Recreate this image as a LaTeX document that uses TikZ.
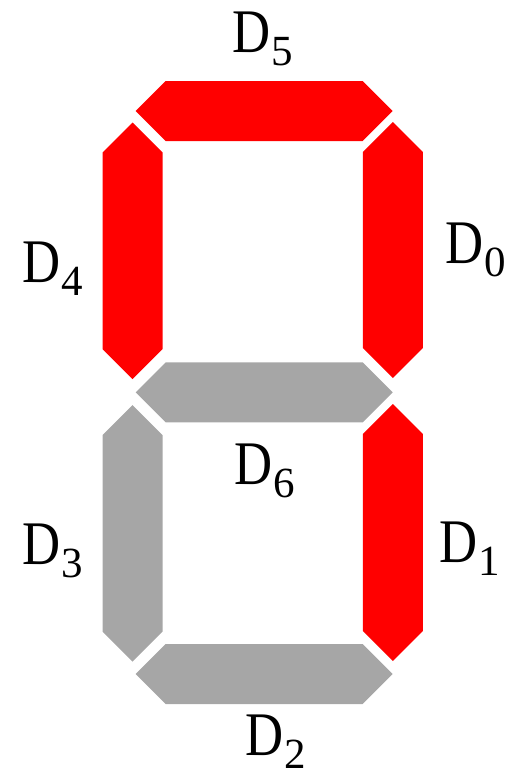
\documentclass[tikz,border=0pt]{standalone}
\usepackage{fontspec}
\newfontfamily\labfont[FakeStretch=0.85]{Liberation Serif}
\newfontfamily\subfont{Liberation Serif}
\definecolor{segon}{HTML}{FF0000}
\definecolor{segoff}{HTML}{A6A6A6}
\newcommand{\seglab}[1]{{\labfont\fontsize{62}{62}\selectfont D\kern1pt\raisebox{-13pt}[\height][0pt]{\subfont\fontsize{43}{43}\selectfont #1}}}
\newcommand{\hseg}[4]{% xL, xR, ym, colour
  \fill[#4] (#1,#3) -- (#1+30,#3-30) -- (#2-30,#3-30) -- (#2,#3) -- (#2-30,#3+30) -- (#1+30,#3+30) -- cycle;}
\newcommand{\vseg}[4]{% xc, ytop, ybot, colour
  \fill[#4] (#1,#2) -- (#1+30,#2+30) -- (#1+30,#3-30) -- (#1,#3) -- (#1-30,#3-30) -- (#1-30,#2+30) -- cycle;}
\begin{document}
\begin{tikzpicture}[x=1pt,y=-1pt,
  lab/.style={anchor=base west,inner sep=0pt,outer sep=0pt}]
\useasboundingbox (0,0) rectangle (521,776);
% segments
\hseg{135.7}{392.7}{111}{segon}   % D5
\vseg{392.8}{122}{378}{segon}     % D0
\vseg{392.8}{404}{661}{segon}     % D1
\hseg{135.7}{392.7}{674}{segoff}  % D2
\vseg{132.5}{405}{661.5}{segoff}  % D3
\vseg{132.5}{122.5}{379}{segon}   % D4
\hseg{135.7}{392.7}{392.3}{segoff}% D6
% labels
\node[lab] (l5) at (232,52.7) {\seglab{5}};
\node[lab] (l0) at (445,263.3) {\seglab{0}};
\node[lab] (l1) at (439.7,562.7) {\seglab{1}};
\node[lab] (l2) at (245.7,755) {\seglab{2}};
\node[lab] (l3) at (22,564) {\seglab{3}};
\node[lab] (l4) at (22,282.7) {\seglab{4}};
\node[lab] (l6) at (234,484) {\seglab{6}};
\end{tikzpicture}
\end{document}
